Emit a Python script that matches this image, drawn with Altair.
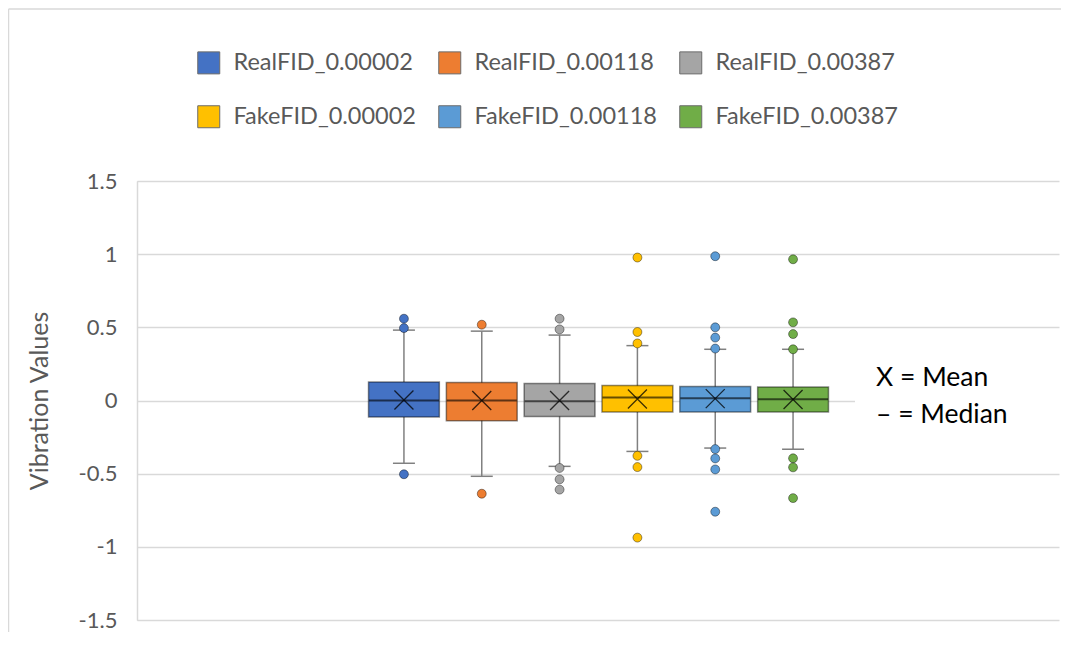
import altair as alt
import pandas as pd

# ---- data ----
series = ["RealFID_0.00002", "RealFID_0.00118", "RealFID_0.00387",
          "FakeFID_0.00002", "FakeFID_0.00118", "FakeFID_0.00387"]
colors = ["#4472C4", "#ED7D31", "#A5A5A5", "#FFC000", "#5B9BD5", "#70AD47"]

q1 = [-0.112, -0.139, -0.109, -0.078, -0.078, -0.078]
q3 = [0.127, 0.123, 0.116, 0.102, 0.095, 0.093]
median = [0.0, 0.0, -0.005, 0.020, 0.016, 0.009]
mean = [0.003, 0.0, 0.0, 0.010, 0.013, 0.007]
whisker_low = [-0.429, -0.518, -0.450, -0.348, -0.325, -0.333]
whisker_high = [0.481, 0.474, 0.447, 0.375, 0.350, 0.350]

outliers_real_00002 = [0.559, 0.495, -0.504]
outliers_real_00118 = [0.518, -0.637]
outliers_real_00387 = [0.559, 0.486, -0.461, -0.539, -0.609]
outliers_fake_00002 = [0.977, 0.468, 0.390, -0.378, -0.455, -0.937]
outliers_fake_00118 = [0.986, 0.500, 0.430, 0.355, -0.332, -0.396, -0.471, -0.760]
outliers_fake_00387 = [0.965, 0.534, 0.454, 0.350, -0.395, -0.457, -0.667]

y_ticks = [-1.5, -1, -0.5, 0, 0.5, 1, 1.5]
notes = ["X = Mean", "\u2013 = Median"]

# ---- tables ----
stats = pd.DataFrame({
    "series": series, "q1": q1, "q3": q3, "median": median, "mean": mean,
    "lo": whisker_low, "hi": whisker_high,
})
stats["grp"] = ""
out_lists = [outliers_real_00002, outliers_real_00118, outliers_real_00387,
             outliers_fake_00002, outliers_fake_00118, outliers_fake_00387]
out_df = pd.DataFrame([
    {"series": s, "value": v, "grp": ""} for s, vals in zip(series, out_lists) for v in vals
])
caps = pd.DataFrame(
    [{"series": s, "cap": lo, "grp": ""} for s, lo in zip(series, whisker_low)]
    + [{"series": s, "cap": hi, "grp": ""} for s, hi in zip(series, whisker_high)]
)

W, H = 923, 439
FONT = "Lato"
GREY_TXT = "#595959"

xenc = alt.X("grp:N", scale=alt.Scale(paddingInner=0, paddingOuter=0.5), axis=None)
xoff = alt.XOffset("series:N", sort=series,
                   scale=alt.Scale(paddingInner=0.09, paddingOuter=0.01))
yscale = alt.Scale(domain=[-1.5, 1.5], nice=False, zero=False)
yaxis = alt.Axis(values=y_ticks, labelExpr="datum.value + ''",
                 grid=True, gridColor="#D9D9D9", gridWidth=1.5,
                 domain=True, domainColor="#D9D9D9", domainWidth=1.5,
                 ticks=False, labelPadding=20, labelFont=FONT, labelFontSize=22,
                 labelColor=GREY_TXT, titleFont=FONT, titleFontSize=25,
                 titleFontWeight="normal", titleColor=GREY_TXT, titlePadding=26)
YT = "Vibration Values"

def Y(field):
    return alt.Y(f"{field}:Q", scale=yscale, axis=yaxis, title=YT)

color_enc = alt.Color(
    "series:N", sort=series,
    scale=alt.Scale(domain=series, range=colors),
    legend=alt.Legend(orient="none", legendX=60, legendY=-130,
                      direction="horizontal", columns=3, title=None,
                      symbolType="square", symbolSize=484,
                      symbolStrokeColor="#6b6b6b", symbolStrokeWidth=1,
                      symbolOpacity=1, labelLimit=400,
                      labelFont=FONT, labelFontSize=23.5, labelColor=GREY_TXT,
                      labelOffset=13, columnPadding=20, rowPadding=27,
                      padding=0),
)

one = pd.DataFrame({"a": [0]})
frame_left = alt.Chart(one).mark_rule(color="#D9D9D9", strokeWidth=1.5).encode(
    x=alt.value(-128.5), y=alt.value(-172), y2=alt.value(H + 200))
frame_top = alt.Chart(one).mark_rule(color="#D9D9D9", strokeWidth=1.5).encode(
    x=alt.value(-128.5), x2=alt.value(W + 200), y=alt.value(-172))

whisk = alt.Chart(stats).mark_rule(color="#808080", strokeWidth=1.5).encode(
    x=xenc, xOffset=xoff, y=Y("lo"), y2="hi")

cap = alt.Chart(caps).mark_tick(color="#808080", thickness=1.5, size=22, opacity=1).encode(
    x=xenc, xOffset=xoff, y=Y("cap"))

box = alt.Chart(stats).mark_bar(stroke="black", strokeOpacity=0.45, strokeWidth=1.5, opacity=1).encode(
    x=xenc, xOffset=xoff, y=Y("q1"), y2="q3", color=color_enc)

med = alt.Chart(stats).mark_tick(color="black", opacity=0.6, thickness=2, size=70).encode(
    x=xenc, xOffset=xoff, y=Y("median"))

mean_x = alt.Chart(stats).mark_point(
    shape="M-1,-1L1,1M-1,1L1,-1", size=361, filled=False,
    stroke="black", strokeWidth=1.3, opacity=0.75
).encode(x=xenc, xOffset=xoff, y=Y("mean"))

pts = alt.Chart(out_df).mark_point(
    filled=True, size=80, stroke="black", strokeOpacity=0.4, strokeWidth=1, opacity=1
).encode(x=xenc, xOffset=xoff, y=Y("value"), color=color_enc)

# white strip hiding the stray edge line at the right of the plot area
right_mask = alt.Chart(one).mark_rule(color="white", strokeWidth=2.5).encode(
    x=alt.value(W + 0.75), y=alt.value(-171), y2=alt.value(H + 40))

note_bg = alt.Chart(one).mark_rect(fill="white").encode(
    x=alt.value(718), x2=alt.value(W + 1), y=alt.value(176), y2=alt.value(258))

note_txt = alt.Chart(one).mark_text(
    align="left", baseline="alphabetic", font=FONT, fontSize=26.5,
    color="black", lineHeight=37
).encode(x=alt.value(739), y=alt.value(205), text=alt.value(notes))

chart = alt.layer(frame_left, frame_top, whisk, cap, box, med, mean_x, pts,
                  right_mask, note_bg, note_txt).properties(
    width=W, height=H,
    padding={"left": 129, "top": 173, "right": 1, "bottom": 12},
    autosize=alt.AutoSizeParams(type="none"),
).configure_view(strokeWidth=0, strokeOpacity=0).configure(background="white")

chart.save("out.html", embed_options={"renderer": "svg", "actions": False})
